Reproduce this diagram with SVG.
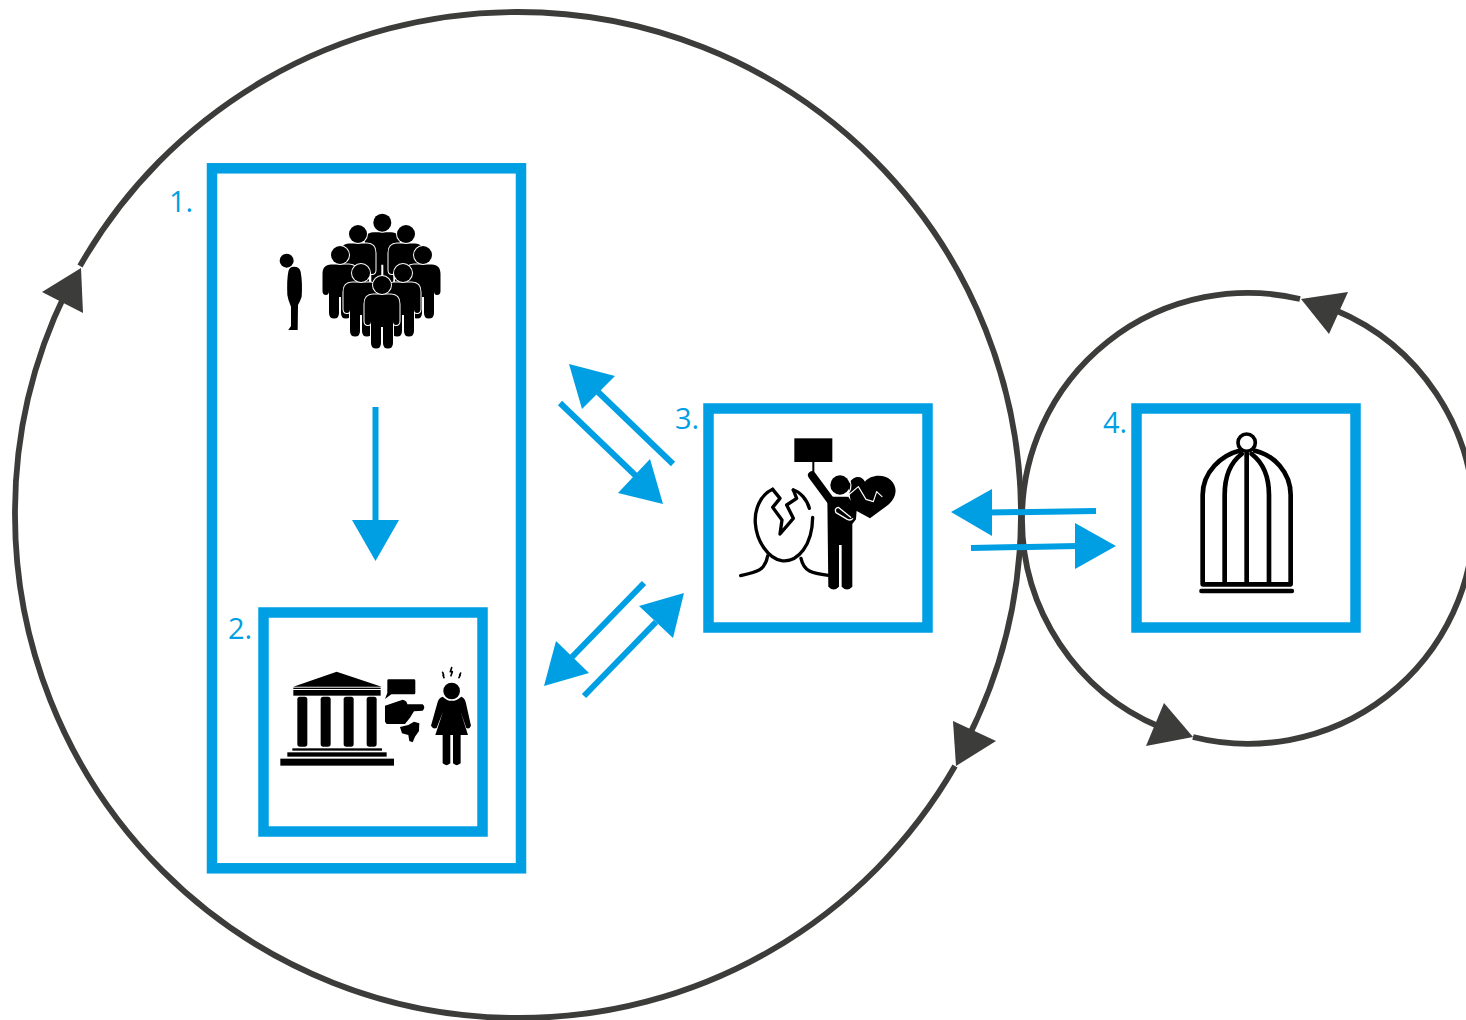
<svg xmlns="http://www.w3.org/2000/svg" width="1466" height="1020" viewBox="0 0 1466 1020">
<style>
.box{fill:none;stroke:#009fe3;stroke-width:10.5}
.lbl{font-family:"Open Sans","Liberation Sans",sans-serif;font-size:29px;fill:#009fe3}
.ring{fill:none;stroke:#3c3c3b;stroke-width:5.8}
.hd{fill:#3c3c3b}
.bl{stroke:#009fe3;stroke-width:6;fill:none}
.ah{fill:#009fe3}
.ik{fill:#000}
.ol{fill:none;stroke:#000;stroke-linecap:round;stroke-linejoin:round}
.wl{fill:none;stroke:#fff;stroke-linejoin:round;stroke-linecap:round}
.p{fill:#000;stroke:#fff;stroke-width:2;paint-order:stroke}
</style>
<defs>
<g id="person">
<path class="p" d="M-9,9.500H9C14.500,9.500 17.500,13 17.500,19V36Q17.500,40 14,40Q11,40 11,36V58Q11,63.500 5.800,63.500Q1,63.500 1,58V42H-1V58Q-1,63.500 -5.800,63.500Q-11,63.500 -11,58V36Q-11,40 -14,40Q-17.500,40 -17.500,36V19C-17.500,13 -14.500,9.500 -9,9.500Z"/>
<circle class="p" r="9"/>
</g>
</defs>

<g id="cycle-connectors">
<path class="ring" d="M955,766A503,503 0 0 1 518,1018A503,503 0 0 1 15,515A503,503 0 0 1 66,292"/>
<path class="ring" d="M80,266A503,503 0 0 1 518,12A503,503 0 0 1 1021,515A503,503 0 0 1 966,742"/>
<path class="ring" d="M1300,299A226,226 0 0 0 1022,519A226,226 0 0 0 1160,727"/>
<path class="ring" d="M1193,737A226,226 0 0 0 1474,519A226,226 0 0 0 1335,310"/>
<polygon class="hd" points="81,268 83,313 42,292"/>
<polygon class="hd" points="953,721 996,741 956,766"/>
<polygon class="hd" points="1348,292 1301,299 1329,334"/>
<polygon class="hd" points="1164,703 1193,737 1146,746"/>
</g>

<g id="node-1">
<rect class="box" x="212" y="168.300" width="309" height="700"/>
<text class="lbl" x="169" y="212">1.</text>
<g id="icon-crowd">
<g transform="translate(260,200) scale(.3333)">
<circle class="ik" cx="80" cy="182" r="21"/>
<path class="ik" d="M96,201Q118,198 122,215Q128,250 125,290Q120,305 114,315L113,390H85L93,378L93,320Q84,300 82,285Q80,240 85,215Q88,203 96,201Z"/>
</g>
<use href="#person" x="382.300" y="222.700"/>
<use href="#person" x="358" y="234"/>
<use href="#person" x="406" y="234"/>
<use href="#person" x="340" y="255"/>
<use href="#person" x="423" y="255"/>
<use href="#person" x="361" y="273"/>
<use href="#person" x="403" y="273"/>
<use href="#person" x="382" y="285"/>
</g>
</g>

<g id="node-2">
<rect class="box" x="263.500" y="612.500" width="219" height="219"/>
<text class="lbl" x="228" y="639">2.</text>
<g id="icon-court" transform="translate(270,655) scale(.3333)">
<polygon class="ik" points="70,95 200,50 335,95"/>
<rect class="ik" x="70" y="98" width="262" height="4"/>
<rect class="ik" x="70" y="105" width="262" height="17"/>
<rect class="ik" x="82" y="125" width="30" height="150" rx="8"/>
<rect class="ik" x="152" y="125" width="30" height="150" rx="8"/>
<rect class="ik" x="221" y="125" width="30" height="150" rx="8"/>
<rect class="ik" x="290" y="125" width="30" height="150" rx="8"/>
<rect class="ik" x="67" y="280" width="269" height="7"/>
<rect class="ik" x="52" y="292" width="298" height="13"/>
<rect class="ik" x="31" y="311" width="341" height="21"/>
<path class="ik" d="M356,73H432Q436,73 436,77V114Q436,118 432,118H364L345,132L352,114V77Q352,73 356,73Z"/>
<path class="ik" d="M345,152L398,134Q412,138 412,148H458Q468,157 458,167L432,169L420,188L405,207H350L345,200Z"/>
<path class="ik" d="M390,216L415,210L432,200L448,205L447,228L435,245L428,262L418,258L415,240L396,235Z"/>
<circle class="ik" cx="545" cy="108" r="25"/>
<path class="ik" d="M518,125Q545,150 574,125Q586,130 588,145L603,212Q598,224 589,219L572,170L594,240H572V325Q560,336 549,325V240H541V325Q530,336 518,325V240H496L519,170L500,219Q490,224 483,212L502,145Q504,130 518,125Z"/>
<path class="ol" stroke-width="5" d="M518,52L521,60L519,60L522,68M545,38L541,50L547,50L543,62M572,54L569,60L571,60L567,68"/>
</g>
</g>

<g id="node-3">
<rect class="box" x="708.500" y="408.500" width="219" height="219"/>
<text class="lbl" x="675" y="429">3.</text>
<g id="icon-survivor" transform="translate(730,430) scale(.3333)">
<rect class="ik" x="193" y="25" width="114" height="71"/>
<path class="ol" stroke-width="6" d="M250,96V128"/>
<path class="ik" d="M355,165C368,135 395,135 405,155C420,135 460,130 482,150C508,175 497,208 470,228L420,265L365,235Z"/>
<path class="ol" stroke-width="24" d="M246,136L302,212"/>
<path class="ik" d="M292,200H355L380,240L378,268L367,282V470Q351,487 335,470V345H327V470Q311,487 295,470Z"/>
<circle class="ik" cx="330" cy="165" r="29"/>
<path class="wl" stroke-width="3.500" d="M352,198L385,170L408,208L430,215L440,185L456,200"/>
<path class="wl" stroke-width="3.500" d="M358,150Q368,165 358,185"/>
<path class="wl" stroke-width="4" d="M362,262L325,232Q312,235 318,248L352,268Q362,273 368,266"/>
<path class="ol" stroke-width="10" d="M128,178C90,195 73,240 76,280C80,335 115,385 155,392C205,398 247,345 248,262M190,180C210,185 232,210 238,235"/>
<path class="ol" stroke-width="10" d="M128,178L150,205L128,232L156,270L150,312L190,265L170,225L200,205L190,180"/>
<path class="ol" stroke-width="10" d="M113,378C105,420 85,425 32,437M213,385C222,425 245,430 295,436"/>
</g>
</g>

<g id="node-4">
<rect class="box" x="1136.500" y="408.500" width="219" height="219"/>
<text class="lbl" x="1103" y="433">4.</text>
<g id="icon-cage" transform="translate(1180,425) scale(.3333)">
<circle cx="200" cy="53" r="26" fill="none" stroke="#000" stroke-width="11"/>
<path class="ol" stroke-width="14" d="M68,478V210C68,140 125,90 178,77M225,77C280,90 332,140 332,210V478M134,478V210C134,145 155,110 185,87M267,478V210C267,145 245,110 215,87M200,85V478M68,478H332"/>
<path class="ol" stroke-width="13" d="M64,498H336"/>
</g>
</g>

<g id="flow-connectors">
<path class="bl" d="M375.500,407V525"/>
<polygon class="ah" points="352,520 399,520 375.500,561"/>
<path class="bl" d="M673,464L596,390"/>
<polygon class="ah" points="569,364 615,376 582,409"/>
<path class="bl" d="M560,403L636,476"/>
<polygon class="ah" points="663,504 650,459 618,493"/>
<path class="bl" d="M644,583L572,657"/>
<polygon class="ah" points="544,686 556,641 589,673"/>
<path class="bl" d="M584,696L656,622"/>
<polygon class="ah" points="684,593 639,606 673,638"/>
<path class="bl" d="M1096,511L990,512.500"/>
<polygon class="ah" points="951,512 992,489 992,536"/>
<path class="bl" d="M971,548L1077,546"/>
<polygon class="ah" points="1116,546 1075,523 1075,569"/>
</g>
</svg>
